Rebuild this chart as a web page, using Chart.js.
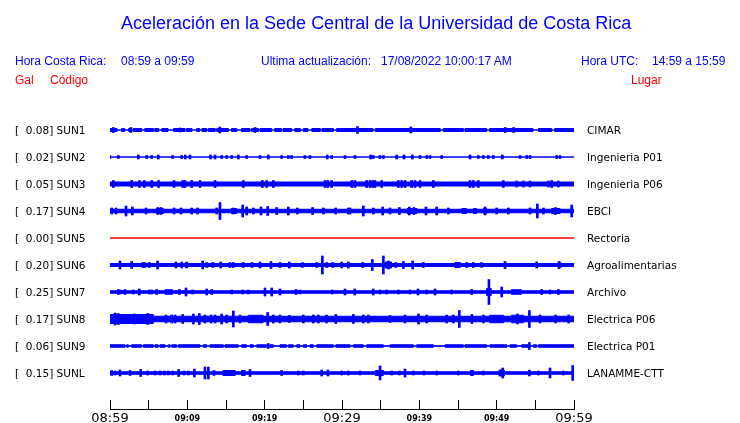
<!DOCTYPE html>
<html>
<head>
<meta charset="utf-8">
<script src="https://cdn.jsdelivr.net/npm/chart.js@4"></script>
<style>
html,body{margin:0;padding:0;background:#fff;}
#wrap{position:relative;width:740px;height:423px;overflow:hidden;background:#fff;}
canvas{position:absolute;left:0;top:0;}
.t{position:absolute;white-space:pre;font-family:"Liberation Sans",Arial,sans-serif;line-height:1;}
.b{color:#0000ff;}
.r{color:#ff0000;}
.s12{font-size:12px;}
</style>
</head>
<body>
<div id="wrap">
<canvas id="c" width="740" height="423"></canvas>
<div class="t b" style="left:121px;top:14px;font-size:18px">Aceleración en la Sede Central de la Universidad de Costa Rica</div>
<div class="t b s12" style="left:15px;top:55px">Hora Costa Rica:</div>
<div class="t b s12" style="left:121px;top:55px">08:59 a 09:59</div>
<div class="t b s12" style="left:261px;top:55px">Ultima actualización:</div>
<div class="t b s12" style="left:381px;top:55px">17/08/2022 10:00:17 AM</div>
<div class="t b s12" style="left:581px;top:55px">Hora UTC:</div>
<div class="t b s12" style="left:652px;top:55px">14:59 a 15:59</div>
<div class="t r s12" style="left:15px;top:74px">Gal</div>
<div class="t r s12" style="left:50px;top:74px">Código</div>
<div class="t r s12" style="left:631px;top:74px">Lugar</div>
</div>
<script>
// ---- data (minutes after 08:59, amplitudes in Gal) ----
const tickMarkMinutes = [0,5,10,15,20,25,30,35,40,45,50,55,60];
const timeTickMinutes = [0,10,20,30,40,50,60];
const timeTickLabels = ['08:59','09:09','09:19','09:29','09:39','09:49','09:59'];
const majorTimeLabels = ['08:59','09:29','09:59'];

const codes = ['SUN1','SUN2','SUN3','SUN4','SUN5','SUN6','SUN7','SUN8','SUN9','SUNL'];
const places = ['CIMAR','Ingenieria P01','Ingenieria P06','EBCI','Rectoria','Agroalimentarias','Archivo','Electrica P06','Electrica P01','LANAMME-CTT'];
const peakGal = [0.08,0.02,0.05,0.17,0.00,0.20,0.25,0.17,0.06,0.15];

// envelope of the continuous noise band: [minute, half amplitude] (holds until next entry)
const envSUN1 = [[0,0.03],[0.9,0],[1.5,0.03],[1.9,0],[2.4,0.03],[2.8,0],[3.0,0.03],[4.1,0],[4.5,0.03],[5.6,0],[5.8,0.03],[6.3,0],[6.7,0.03],[7.5,0],[8.2,0.03],[9.7,0],[9.9,0.03],[10.6,0],[11.2,0.03],[11.6,0],[11.9,0.03],[12.5,0],[12.7,0.03],[13.6,0],[13.8,0.03],[15.3,0],[15.7,0.03],[16.4,0],[17.0,0.03],[18.1,0],[18.3,0.03],[19.2,0],[19.4,0.03],[20.9,0],[21.3,0.03],[22.2,0],[22.4,0.03],[23.5,0],[23.9,0.03],[24.6,0],[25.0,0.03],[25.6,0],[26.1,0.03],[27.2,0],[27.4,0.03],[28.9,0],[29.3,0.03],[34.0,0],[34.3,0.03],[42.7,0],[43.1,0.03],[45.7,0],[45.9,0.03],[48.7,0],[49.1,0.03],[54.7,0],[55.4,0.03],[57.1,0],[57.5,0.03],[60,0.03]];
const envSUN2 = [[0,0],[60,0]];
const envSUN3 = [[0,0.04],[60,0.04]];
const envSUN4 = [[0,0.035],[6.0,0.05],[6.9,0.035],[15.7,0.05],[16.4,0.035],[38.4,0.05],[39.7,0.035],[45.5,0.05],[46.1,0.035],[47.0,0.05],[47.4,0.035],[48.3,0.05],[48.7,0.035],[57.1,0.05],[58.2,0.035],[60,0.035]];
const envSUN5 = [[0,0],[60,0]];
const envSUN6 = [[0,0.03],[35.6,0.06],[36.4,0.03],[44.6,0.05],[45.3,0.03],[60,0.03]];
const envSUN7 = [[0,0.025],[7.1,0.045],[8.1,0.025],[48.7,0.07],[49.3,0.025],[51.9,0.045],[53.2,0.025],[60,0.025]];
const envSUN8 = [[0,0.09],[5.6,0.055],[17.9,0.075],[19.8,0.055],[49.1,0.075],[50.9,0.055],[51.9,0.075],[53.5,0.055],[60,0.055]];
const envSUN9 = [[0,0.025],[1.94,0.005],[2.16,0.025],[2.37,0.005],[2.8,0.025],[4.09,0.005],[4.31,0.025],[5.6,0.005],[5.82,0.025],[6.25,0.005],[6.47,0.025],[7.11,0.005],[7.54,0.025],[7.76,0.005],[7.97,0.025],[8.62,0.005],[8.84,0.025],[11.64,0.005],[12.07,0.025],[12.5,0.005],[12.93,0.025],[14.66,0.005],[14.87,0.025],[16.59,0.005],[17.03,0.025],[17.67,0.005],[18.1,0.025],[18.53,0.005],[18.97,0.025],[20.26,0.005],[20.69,0.025],[21.12,0.005],[21.98,0.025],[22.84,0.005],[23.06,0.025],[23.71,0.005],[24.14,0.025],[24.57,0.005],[25.0,0.025],[25.43,0.005],[25.86,0.025],[26.29,0.005],[26.72,0.025],[28.88,0.005],[29.2,0.025],[31.04,0.005],[31.47,0.025],[32.76,0.005],[33.19,0.025],[35.35,0.005],[36.21,0.025],[39.23,0.005],[39.66,0.025],[41.81,0.005],[43.32,0.025],[45.69,0.005],[45.91,0.025],[48.71,0.005],[49.14,0.025],[51.3,0.005],[51.73,0.025],[52.59,0.005],[53.23,0.025],[54.31,0.005],[54.74,0.025],[55.17,0.005],[55.39,0.025],[60,0.025]];
const envSUNL = [[0,0.025],[14.6,0.05],[16.2,0.025],[17.0,0.05],[17.5,0.025],[34.3,0.05],[35.35,0.025],[46.6,0.05],[47.0,0.025],[50.3,0.06],[51.0,0.025],[60,0.025]];

// individual spikes: [minute, half amplitude]
const spkSUN1 = [[0.43,0.05],[2.7,0.05],[9.05,0.04],[14.2,0.06],[18.75,0.05],[32.0,0.07],[38.9,0.06],[51.1,0.05],[52.2,0.05]];
const spkSUN2 = [[0,0.03],[1.08,0.03],[3.66,0.04],[4.74,0.03],[5.39,0.03],[6.25,0.04],[8.1,0.03],[9.27,0.03],[9.74,0.04],[10.34,0.04],[13.0,0.04],[13.58,0.04],[14.44,0.03],[15.09,0.03],[15.73,0.03],[16.6,0.04],[17.67,0.03],[19.4,0.03],[20.47,0.04],[22.2,0.03],[23.06,0.03],[23.49,0.03],[25.2,0.03],[25.86,0.03],[28.1,0.04],[28.66,0.03],[30.39,0.03],[31.68,0.03],[33.7,0.04],[34.05,0.03],[34.9,0.03],[35.35,0.03],[37.07,0.04],[38.02,0.04],[39.1,0.04],[40.09,0.03],[40.95,0.03],[41.38,0.03],[42.89,0.03],[46.55,0.04],[47.63,0.03],[48.28,0.03],[48.92,0.03],[49.57,0.03],[50.73,0.04],[53.02,0.03],[53.88,0.03],[54.31,0.03],[57.76,0.03],[58.19,0.03]];
const spkSUN3 = [[0.43,0.07],[2.8,0.07],[3.8,0.07],[4.44,0.07],[5.39,0.07],[6.29,0.07],[8.28,0.07],[9.4,0.07],[9.7,0.07],[10.56,0.07],[11.64,0.07],[13.58,0.07],[17.24,0.07],[19.7,0.07],[20.26,0.07],[21.12,0.07],[27.8,0.07],[28.15,0.07],[28.66,0.07],[31.25,0.07],[31.68,0.07],[33.19,0.07],[33.62,0.07],[33.97,0.07],[34.27,0.07],[35.13,0.07],[37.29,0.07],[37.72,0.07],[38.15,0.07],[39.01,0.07],[39.44,0.07],[40.09,0.07],[41.81,0.07],[46.55,0.07],[46.98,0.07],[47.63,0.07],[50.86,0.07],[52.59,0.06],[53.45,0.06],[54.31,0.06],[56.68,0.06],[57.11,0.07],[57.98,0.06]];
const spkSUN4 = [[0.22,0.06],[0.78,0.06],[2.07,0.1],[2.89,0.08],[4.66,0.06],[6.2,0.07],[6.6,0.07],[8.28,0.06],[9.18,0.06],[10.56,0.06],[11.34,0.06],[13.79,0.06],[14.22,0.17],[15.9,0.06],[17.16,0.12],[17.67,0.08],[18.53,0.06],[19.53,0.08],[20.39,0.09],[21.55,0.07],[23.06,0.08],[24.22,0.06],[26.2,0.07],[27.59,0.06],[29.18,0.06],[30.82,0.06],[31.04,0.06],[32.76,0.1],[34.05,0.06],[35.26,0.08],[36.21,0.06],[37.42,0.07],[38.7,0.08],[39.3,0.07],[40.86,0.08],[42.24,0.08],[43.75,0.06],[48.5,0.08],[50.0,0.06],[51.51,0.06],[54.31,0.06],[55.26,0.14],[56.04,0.06],[57.6,0.07],[59.7,0.12]];
const spkSUN5 = [];
const spkSUN6 = [[1.29,0.08],[2.8,0.07],[4.22,0.05],[4.53,0.05],[5.09,0.05],[6.16,0.08],[8.53,0.06],[9.27,0.06],[9.91,0.06],[11.98,0.08],[12.5,0.05],[13.28,0.05],[14.31,0.06],[15.52,0.05],[15.95,0.05],[17.24,0.05],[18.36,0.05],[19.4,0.06],[20.82,0.07],[21.98,0.05],[23.19,0.06],[24.87,0.05],[26.72,0.05],[27.46,0.18],[28.02,0.05],[28.79,0.05],[29.96,0.06],[30.82,0.06],[32.67,0.05],[33.92,0.11],[35.35,0.18],[36.0,0.08],[36.94,0.05],[37.93,0.07],[39.14,0.08],[40.52,0.05],[46.12,0.05],[46.98,0.05],[48.06,0.05],[51.08,0.07],[55.17,0.06],[58.06,0.07],[58.19,0.05]];
const spkSUN7 = [[1.08,0.05],[1.38,0.04],[1.94,0.05],[3.02,0.04],[3.79,0.06],[5.09,0.04],[5.39,0.04],[6.03,0.05],[8.97,0.05],[9.83,0.08],[10.69,0.04],[12.5,0.06],[13.15,0.05],[15.73,0.04],[17.16,0.04],[17.89,0.04],[20.04,0.08],[20.91,0.08],[21.98,0.06],[24.05,0.05],[24.57,0.04],[28.75,0.04],[30.39,0.06],[31.64,0.06],[34.05,0.06],[34.92,0.04],[35.78,0.04],[37.29,0.04],[38.79,0.04],[39.83,0.06],[40.95,0.04],[42.03,0.06],[44.18,0.04],[46.77,0.05],[49.0,0.25],[50.65,0.1],[55.82,0.05],[56.9,0.04],[57.98,0.05]];
const spkSUN8 = [[0.65,0.12],[1.08,0.11],[3.15,0.1],[3.79,0.09],[4.87,0.11],[5.39,0.08],[7.24,0.08],[7.97,0.08],[8.41,0.08],[9.4,0.09],[10.78,0.1],[11.55,0.11],[12.28,0.08],[13.06,0.08],[13.58,0.08],[14.44,0.1],[15.09,0.08],[15.95,0.16],[16.81,0.08],[20.39,0.13],[21.12,0.08],[21.98,0.08],[23.2,0.07],[25.0,0.08],[26.29,0.08],[26.94,0.08],[28.0,0.08],[29.2,0.09],[31.47,0.09],[32.76,0.08],[33.41,0.08],[36.21,0.07],[38.15,0.08],[39.9,0.1],[40.95,0.08],[43.54,0.08],[44.4,0.08],[45.17,0.17],[46.8,0.09],[48.28,0.08],[52.7,0.1],[54.23,0.17],[55.6,0.08],[57.6,0.08],[59.3,0.08]];
const spkSUN9 = [[20.47,0.05],[54.23,0.07]];
const spkSUNL = [[0.22,0.05],[0.65,0.04],[1.29,0.06],[2.59,0.05],[3.97,0.07],[4.87,0.04],[5.82,0.04],[6.47,0.04],[7.03,0.04],[7.54,0.04],[8.1,0.04],[8.88,0.07],[9.61,0.04],[10.13,0.04],[10.91,0.08],[12.28,0.12],[12.72,0.12],[13.45,0.05],[18.1,0.07],[22.2,0.05],[24.35,0.04],[25.0,0.04],[27.37,0.06],[28.19,0.06],[29.96,0.04],[30.82,0.04],[32.33,0.04],[34.92,0.14],[36.42,0.04],[37.42,0.04],[38.15,0.08],[39.23,0.04],[40.6,0.04],[42.24,0.04],[45.05,0.04],[48.28,0.04],[50.78,0.1],[54.23,0.06],[55.39,0.04],[56.9,0.1],[58.62,0.04],[59.83,0.15]];

// ---- build chart ----
const envs = [envSUN1,envSUN2,envSUN3,envSUN4,envSUN5,envSUN6,envSUN7,envSUN8,envSUN9,envSUNL];
const spks = [spkSUN1,spkSUN2,spkSUN3,spkSUN4,spkSUN5,spkSUN6,spkSUN7,spkSUN8,spkSUN9,spkSUNL];
const ROWS_PER_GAL = 50 / 27;   // display gain: trace spacing is one row
const FONT = "'DejaVu Sans', 'Noto Sans', sans-serif";

const datasets = [];
codes.forEach((code, i) => {
  const row = i + 1;
  const color = peakGal[i] === 0 ? '#ff0000' : '#0000ff';
  const env = envs[i];
  const lineBase = {type:'line', stepped:true, borderColor:color, backgroundColor:color,
    borderWidth:1, pointRadius:0, tension:0, fill:{value:row}, order:2, xAxisID:'x', yAxisID:'y'};
  datasets.push(Object.assign({}, lineBase, {data: env.map(([t,a]) => ({x:t, y:row - a*ROWS_PER_GAL}))}));
  datasets.push(Object.assign({}, lineBase, {data: env.map(([t,a]) => ({x:t, y:row + a*ROWS_PER_GAL}))}));
  if (spks[i].length) {
    datasets.push({type:'bar', data: spks[i].map(([t,a]) => ({x:t, y:[row - a*ROWS_PER_GAL, row + a*ROWS_PER_GAL]})),
      backgroundColor:color, borderWidth:0, barThickness:2, grouped:false, order:1, xAxisID:'x', yAxisID:'y'});
  }
});

const rowTicks = s => { s.ticks = codes.map((_, i) => ({value: i + 1})); };

new Chart(document.getElementById('c'), {
  type: 'bar',
  data: { datasets },
  options: {
    responsive: false,
    animation: false,
    devicePixelRatio: 1,
    events: [],
    layout: { padding: { left: 15, top: 103, right: 0, bottom: 0 } },
    plugins: { legend: {display:false}, tooltip: {enabled:false}, title: {display:false} },
    scales: {
      x: {
        type: 'linear', position: 'bottom', min: 0, max: 60, offset: false,
        afterBuildTicks: s => { s.ticks = tickMarkMinutes.map(v => ({value: v})); },
        ticks: { display: false },
        grid: { display: true, drawOnChartArea: false, drawTicks: true, tickLength: 9, color: '#000', lineWidth: 1, offset: false },
        border: { display: false },
        afterFit: s => { s.height = 9; }
      },
      x2: {
        type: 'linear', position: 'bottom', min: 0, max: 60, offset: false,
        afterBuildTicks: s => { s.ticks = timeTickMinutes.map(v => ({value: v})); },
        ticks: {
          autoSkip: false, maxRotation: 0, padding: 2, color: '#000',
          callback: v => timeTickLabels[timeTickMinutes.indexOf(v)],
          font: ctx => {
            const lbl = timeTickLabels[timeTickMinutes.indexOf(ctx.tick ? ctx.tick.value : -1)];
            return majorTimeLabels.includes(lbl)
              ? {family: FONT, size: 13, weight: 'normal', lineHeight: '15.6px'}
              : {family: FONT, size: 8, weight: 'bold', lineHeight: '15.6px'};
          }
        },
        grid: { display: false, drawTicks: false },
        border: { display: true, color: '#000', width: 1 },
        afterFit: s => { s.height = 14; }
      },
      y: {
        type: 'linear', position: 'left', min: 0, max: 11, reverse: true,
        afterBuildTicks: rowTicks,
        ticks: {
          autoSkip: false, crossAlign: 'far', padding: 0, color: '#000', labelOffset: 1,
          font: {family: FONT, size: 10.5},
          callback: (v, i) => '[' + peakGal[i].toFixed(2).padStart(6, ' ') + '] ' + codes[i]
        },
        grid: { display: false, drawTicks: false },
        border: { display: false },
        afterFit: s => { s.width = 95; }
      },
      yR: {
        type: 'linear', position: 'right', min: 0, max: 11, reverse: true,
        afterBuildTicks: rowTicks,
        ticks: {
          autoSkip: false, crossAlign: 'near', padding: 13, color: '#000', labelOffset: 1,
          font: {family: FONT, size: 10.5},
          callback: (v, i) => places[i]
        },
        grid: { display: false, drawTicks: false },
        border: { display: false },
        afterFit: s => { s.width = 166; }
      }
    }
  }
});
</script>
</body>
</html>
